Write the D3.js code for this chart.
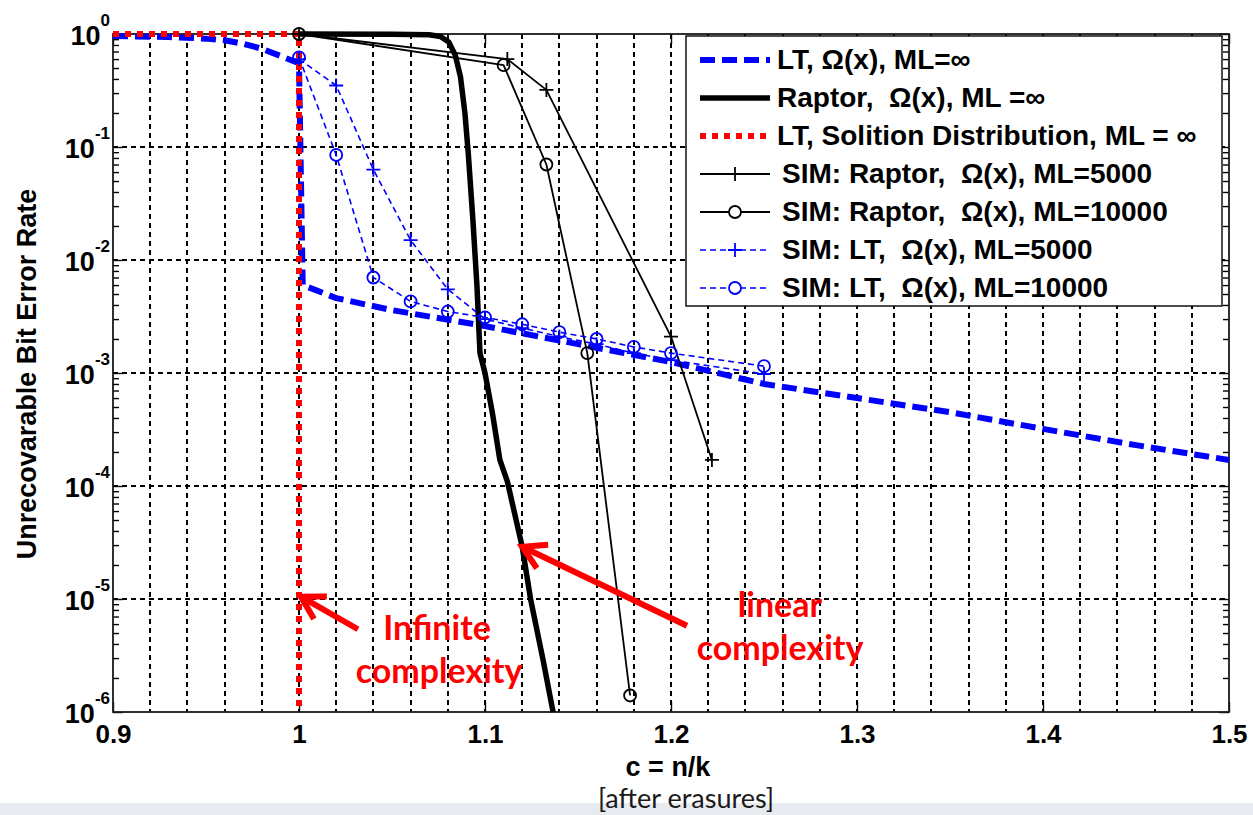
<!DOCTYPE html>
<html>
<head>
<meta charset="utf-8">
<script src="https://cdn.jsdelivr.net/npm/d3@7/dist/d3.min.js"></script>
<style>
  body { margin: 0; background: #fff; }
  svg { display: block; }
  .bold { font-family: "Liberation Sans", Arial, sans-serif; font-weight: bold; }
</style>
</head>
<body>
<svg id="chart" width="1253" height="815"></svg>
<script>
// ---- data ----
// LT, Omega(x), ML = inf (analytic)
const ltInfX = [0.9, 0.93, 0.95, 0.96, 0.97, 0.98, 0.99, 1.0, 1.002, 1.02, 1.05, 1.1, 1.15, 1.2, 1.25, 1.3, 1.35, 1.4, 1.45, 1.5];
const ltInfY = [0.96, 0.94, 0.91, 0.88, 0.82, 0.74, 0.64, 0.55, 0.006, 0.0046, 0.0036, 0.0026, 0.0018, 0.00125, 0.0008, 0.0006, 0.00045, 0.00032, 0.00023, 0.00017];

// Raptor, Omega(x), ML = inf (analytic)
const raptorInfX = [1.0, 1.05, 1.07, 1.076, 1.0805, 1.084, 1.0868, 1.0892, 1.091, 1.0935, 1.0957, 1.0973, 1.1, 1.104, 1.108, 1.112, 1.12, 1.1245, 1.1312, 1.1366];
const raptorInfY = [1.0, 0.995, 0.985, 0.95, 0.85, 0.65, 0.42, 0.2, 0.088, 0.0226, 0.0058, 0.0015, 0.001, 0.00044, 0.00017, 0.00011, 2.9e-5, 1e-5, 2.9e-6, 1e-6];

// LT, Soliton distribution, ML = inf
const solitonX = [0.9, 1.0, 1.0];
const solitonY = [1.0, 1.0, 1e-6];

// simulations
const simRaptor5kX = [1.0, 1.112, 1.133, 1.2, 1.222];
const simRaptor5kY = [1.0, 0.6, 0.32, 0.0021, 0.00017];

const simRaptor10kX = [1.0, 1.11, 1.133, 1.155, 1.178];
const simRaptor10kY = [1.0, 0.53, 0.07, 0.0015, 1.4e-6];

const simLt5kX = [1.0, 1.02, 1.04, 1.06, 1.08, 1.1, 1.12, 1.14, 1.16, 1.18, 1.2, 1.25];
const simLt5kY = [0.6, 0.35, 0.063, 0.015, 0.0055, 0.003, 0.0025, 0.0021, 0.0018, 0.0015, 0.0013, 0.00098];

const simLt10kX = [1.0, 1.02, 1.04, 1.06, 1.08, 1.1, 1.12, 1.14, 1.16, 1.18, 1.2, 1.25];
const simLt10kY = [0.62, 0.085, 0.007, 0.0043, 0.0035, 0.0031, 0.0027, 0.0023, 0.002, 0.0017, 0.0015, 0.00115];

const legendLabels = [
  'LT, \u03A9(x), ML=\u221E',
  'Raptor,  \u03A9(x), ML =\u221E',
  'LT, Solition Distribution, ML = \u221E',
  'SIM: Raptor,  \u03A9(x), ML=5000',
  'SIM: Raptor,  \u03A9(x), ML=10000',
  'SIM: LT,  \u03A9(x), ML=5000',
  'SIM: LT,  \u03A9(x), ML=10000'
];

const xTicks = [0.9, 1, 1.1, 1.2, 1.3, 1.4, 1.5];
const xTickLabels = ['0.9', '1', '1.1', '1.2', '1.3', '1.4', '1.5'];
const yTicks = [1e-6, 1e-5, 1e-4, 1e-3, 1e-2, 1e-1, 1];
const yTickExps = ['-6', '-5', '-4', '-3', '-2', '-1', '0'];

// annotations (data coordinates: [x, y])
const arrowInfinite = { tail: [1.0317, 5.4e-6], tip: [1.001, 1.05e-5] };
const arrowLinear = { tail: [1.2086, 5.8e-6], tip: [1.12, 2.9e-5] };

// ---- layout ----
const svg = d3.select('#chart');
const plotL = 113, plotR = 1229, plotT = 34, plotB = 712;

const x = d3.scaleLinear().domain([0.9, 1.5]).range([plotL, plotR]);
const y = d3.scaleLog().domain([1e-6, 1]).range([plotB, plotT]);

const zip = (xs, ys) => xs.map((v, i) => [v, ys[i]]);

const series = [
  { data: zip(ltInfX, ltInfY), color: '#0000ff', width: 6, dash: '15,7', marker: null },
  { data: zip(raptorInfX, raptorInfY), color: '#000', width: 5.5, dash: null, marker: null },
  { data: zip(solitonX, solitonY), color: '#ff0000', width: 6, dash: '6,6', marker: null },
  { data: zip(simRaptor5kX, simRaptor5kY), color: '#000', width: 1.8, dash: null, marker: 'plus' },
  { data: zip(simRaptor10kX, simRaptor10kY), color: '#000', width: 1.8, dash: null, marker: 'circle' },
  { data: zip(simLt5kX, simLt5kY), color: '#0000ff', width: 1.6, dash: '6,4', marker: 'plus' },
  { data: zip(simLt10kX, simLt10kY), color: '#0000ff', width: 1.6, dash: '6,4', marker: 'circle' }
];

// background band at bottom of slide
svg.append('rect')
  .attr('x', 0).attr('y', 803).attr('width', 1253).attr('height', 12)
  .attr('fill', '#e7eaef');

// grid
const grid = svg.append('g').attr('class', 'grid')
  .attr('stroke', '#000').attr('stroke-width', 1.4).attr('stroke-dasharray', '5,4')
  .attr('shape-rendering', 'crispEdges');

grid.selectAll('.vgrid')
  .data(x.ticks(30).filter(d => d > 0.901 && d < 1.499))
  .enter().append('line')
  .attr('x1', d => Math.round(x(d))).attr('x2', d => Math.round(x(d)))
  .attr('y1', plotT).attr('y2', plotB);

grid.selectAll('.hgrid')
  .data(yTicks.slice(1, -1))
  .enter().append('line')
  .attr('x1', plotL).attr('x2', plotR)
  .attr('y1', d => Math.round(y(d))).attr('y2', d => Math.round(y(d)));

// axes (ticks inside, box on)
const minorY = y.ticks().filter(d => !yTicks.some(t => Math.abs(Math.log10(t) - Math.log10(d)) < 1e-6));

function styleAxis(g) {
  g.select('.domain').remove();
  g.selectAll('line').attr('stroke', '#000').attr('stroke-width', 1.4);
}

svg.append('g').attr('transform', `translate(0,${plotB})`)
  .call(d3.axisBottom(x).tickValues(xTicks).tickSizeInner(-10).tickSizeOuter(0)
    .tickFormat((d, i) => xTickLabels[i]))
  .call(styleAxis)
  .call(g => g.selectAll('text')
    .attr('class', 'bold').attr('y', 31).attr('dy', 0)
    .attr('font-size', 26).attr('fill', '#000'));

svg.append('g').attr('transform', `translate(0,${plotT})`)
  .call(d3.axisTop(x).tickValues(xTicks).tickSizeInner(-10).tickSizeOuter(0).tickFormat(''))
  .call(styleAxis);

const yAxisLeft = svg.append('g').attr('transform', `translate(${plotL},0)`)
  .call(d3.axisLeft(y).tickValues(yTicks).tickSizeInner(-10).tickSizeOuter(0).tickFormat(''))
  .call(styleAxis);

yAxisLeft.selectAll('.tick text')
  .attr('class', 'bold').attr('fill', '#000')
  .attr('text-anchor', 'end').attr('x', -3).attr('dy', 10)
  .each(function (d, i) {
    const t = d3.select(this);
    t.append('tspan').attr('font-size', 27).text('10');
    t.append('tspan').attr('font-size', 17).attr('dy', -19).text(yTickExps[i]);
  });

svg.append('g').attr('transform', `translate(${plotL},0)`)
  .call(d3.axisLeft(y).tickValues(minorY).tickSizeInner(-6).tickSizeOuter(0).tickFormat(''))
  .call(styleAxis);

svg.append('g').attr('transform', `translate(${plotR},0)`)
  .call(d3.axisRight(y).tickValues(yTicks).tickSizeInner(-10).tickSizeOuter(0).tickFormat(''))
  .call(styleAxis);

svg.append('g').attr('transform', `translate(${plotR},0)`)
  .call(d3.axisRight(y).tickValues(minorY).tickSizeInner(-6).tickSizeOuter(0).tickFormat(''))
  .call(styleAxis);

// plot box
svg.append('rect')
  .attr('x', plotL).attr('y', plotT).attr('width', plotR - plotL).attr('height', plotB - plotT)
  .attr('fill', 'none').attr('stroke', '#1a1a1a').attr('stroke-width', 1.8);

// series
const line = d3.line().x(d => x(d[0])).y(d => y(d[1]));

function drawMarkers(g, pts, type, color) {
  if (type === 'plus') {
    g.selectAll('.mk').data(pts).enter().append('path')
      .attr('d', d => `M${x(d[0]) - 7},${y(d[1])}H${x(d[0]) + 7}M${x(d[0])},${y(d[1]) - 7}V${y(d[1]) + 7}`)
      .attr('stroke', color).attr('stroke-width', 1.8).attr('fill', 'none');
  } else if (type === 'circle') {
    g.selectAll('.mk').data(pts).enter().append('circle')
      .attr('cx', d => x(d[0])).attr('cy', d => y(d[1])).attr('r', 6)
      .attr('stroke', color).attr('stroke-width', 1.8).attr('fill', 'none');
  }
}

series.forEach(s => {
  const g = svg.append('g');
  g.append('path')
    .datum(s.data)
    .attr('d', line)
    .attr('fill', 'none')
    .attr('stroke', s.color)
    .attr('stroke-width', s.width)
    .attr('stroke-dasharray', s.dash)
    .attr('stroke-linejoin', 'round');
  if (s.marker) drawMarkers(g, s.data, s.marker, s.color);
});

// legend
const lg = svg.append('g').attr('transform', 'translate(686,36)');
lg.append('rect').attr('width', 536).attr('height', 270)
  .attr('fill', '#fff').attr('stroke', '#000').attr('stroke-width', 1.4);

const rowY = d3.scaleLinear().domain([0, 6]).range([24, 252]);
series.forEach((s, i) => {
  const ry = rowY(i);
  const g = lg.append('g');
  g.append('line')
    .attr('x1', 14).attr('x2', 84).attr('y1', ry).attr('y2', ry)
    .attr('stroke', s.color).attr('stroke-width', s.width)
    .attr('stroke-dasharray', s.dash);
  if (s.marker === 'plus') {
    g.append('path').attr('d', `M49,${ry - 7}V${ry + 7}M42,${ry}H56`)
      .attr('stroke', s.color).attr('stroke-width', 1.8);
  } else if (s.marker === 'circle') {
    g.append('circle').attr('cx', 49).attr('cy', ry).attr('r', 6)
      .attr('fill', '#fff').attr('stroke', s.color).attr('stroke-width', 1.8);
  }
  g.append('text').attr('class', 'bold')
    .attr('x', i < 3 ? 91 : 96).attr('y', ry + 9)
    .attr('font-size', 28).attr('fill', '#000')
    .style('white-space', 'pre')
    .text(legendLabels[i]);
});

// axis labels
svg.append('text').attr('class', 'bold')
  .attr('transform', 'translate(36,374) rotate(-90)')
  .attr('text-anchor', 'middle').attr('font-size', 27).attr('fill', '#000')
  .text('Unrecovarable Bit Error Rate');

svg.append('text').attr('class', 'bold')
  .attr('x', 668).attr('y', 776)
  .attr('text-anchor', 'middle').attr('font-size', 27).attr('fill', '#000')
  .text('c = n/k');

svg.append('text')
  .attr('x', 686).attr('y', 808)
  .attr('text-anchor', 'middle').attr('font-size', 27)
  .attr('font-family', 'Lato, "Open Sans", sans-serif').attr('fill', '#1a1a1a')
  .text('[after erasures]');

// red annotations
const red = '#ff0000';
function arrow(a) {
  const [tx, ty] = [x(a.tip[0]), y(a.tip[1])];
  const [sx, sy] = [x(a.tail[0]), y(a.tail[1])];
  const ang = Math.atan2(sy - ty, sx - tx);
  const len = 26, spread = Math.PI / 6;
  const g = svg.append('g').attr('stroke', red).attr('stroke-width', 6)
    .attr('stroke-linecap', 'butt').attr('fill', 'none');
  g.append('line').attr('x1', sx).attr('y1', sy).attr('x2', tx).attr('y2', ty);
  g.append('path').attr('d',
    `M${tx + len * Math.cos(ang - spread)},${ty + len * Math.sin(ang - spread)}` +
    `L${tx},${ty}` +
    `L${tx + len * Math.cos(ang + spread)},${ty + len * Math.sin(ang + spread)}`);
}
arrow(arrowInfinite);
arrow(arrowLinear);

const note = svg.append('g').attr('fill', red)
  .attr('font-family', 'Lato, "Open Sans", sans-serif').attr('font-weight', 'bold')
  .attr('font-size', 34).attr('text-anchor', 'middle');
note.append('text').attr('x', 437).attr('y', 640).text('Infinite');
note.append('text').attr('x', 439).attr('y', 683).text('complexity');
note.append('text').attr('x', 780).attr('y', 617).text('linear');
note.append('text').attr('x', 780).attr('y', 660).text('complexity');
</script>
</body>
</html>
